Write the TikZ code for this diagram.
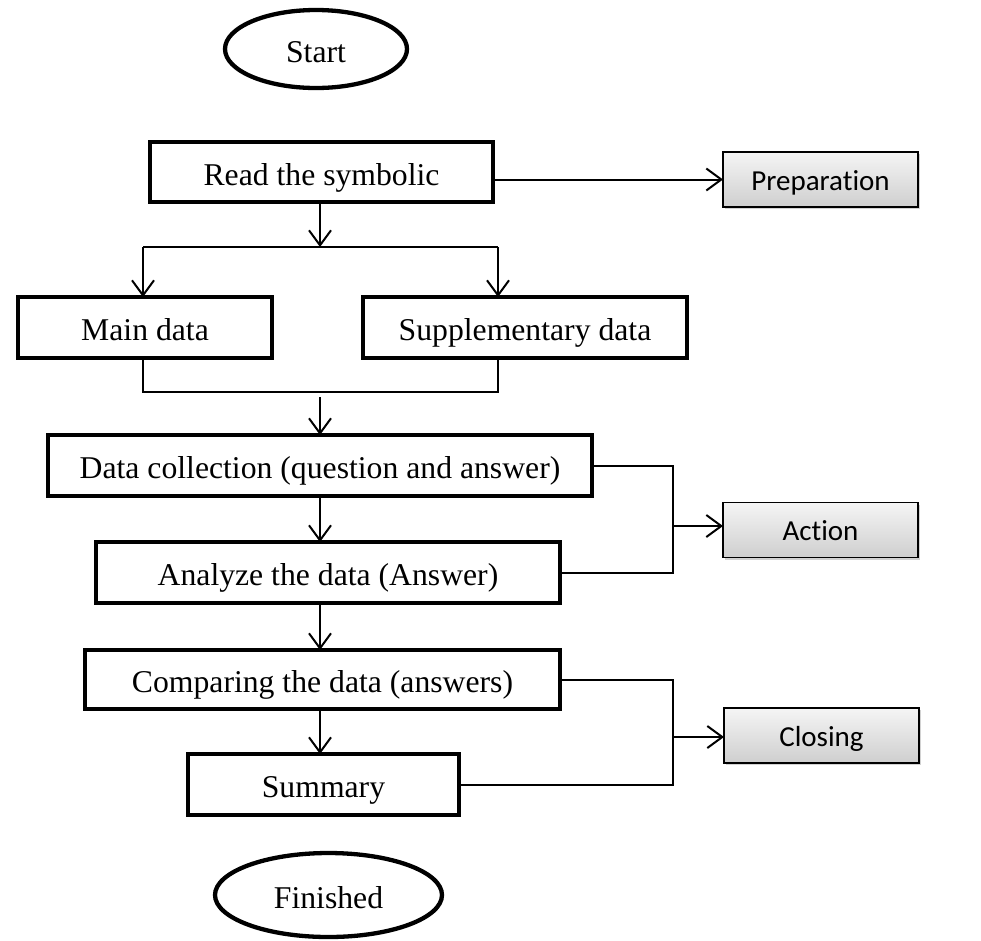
\documentclass[tikz,border=0pt]{standalone}
\usepackage{fontspec}
\setmainfont{Liberation Serif}
\newfontfamily\calib[Ligatures={NoCommon}]{Carlito}
\usetikzlibrary{arrows.meta,shapes.geometric,shadows}
\begin{document}
\begin{tikzpicture}[x=1pt,y=-1pt,
  every node/.style={inner sep=0pt,outer sep=0pt},
  thickbox/.style={draw,line width=4.3pt,rectangle,text height=26pt,text depth=0pt,
     font=\fontsize{31.7}{36}\selectfont},
  oval/.style={draw,line width=4.3pt,ellipse,text height=26pt,text depth=0pt,
     font=\fontsize{31.7}{36}\selectfont},
  phase/.style={draw,line width=1.6pt,rectangle,minimum width=195pt,minimum height=55pt,
     text height=21pt,text depth=0pt,
     top color=gray!8,bottom color=gray!38,
     drop shadow={shadow xshift=2pt,shadow yshift=-2pt,opacity=0.35,fill=gray},
     font=\calib\fontsize{29}{34}\selectfont},
  conn/.style={line width=2pt},
  arr/.style={line width=2pt,-{Straight Barb[length=15pt,width=22pt,line width=2pt]}}]
\useasboundingbox (0,0) rectangle (981,940);
\fill[white] (0,0) rectangle (981,940);

\node[oval,minimum width=182pt,minimum height=78pt] (start) at (316,49) {Start};
\node[thickbox,minimum width=343pt,minimum height=60pt] (read) at (321.5,172) {Read the symbolic};
\node[phase] (prep) at (820.5,179.5) {Preparation};
\node[thickbox,minimum width=254pt,minimum height=61pt] (main) at (145,327.5) {Main data};
\node[thickbox,minimum width=324pt,minimum height=61pt] (supp) at (525,327.5) {Supplementary data};
\node[thickbox,minimum width=544pt,minimum height=61pt] (data) at (320,465.5) {Data collection (question and answer)};
\node[thickbox,minimum width=464pt,minimum height=61pt] (anal) at (328,572.5) {Analyze the data (Answer)};
\node[phase] (action) at (820.5,530) {Action};
\node[thickbox,minimum width=475pt,minimum height=59pt] (comp) at (322.5,679.5) {Comparing the data (answers)};
\node[thickbox,minimum width=271pt,minimum height=61pt] (summ) at (323.5,784.5) {Summary};
\node[phase] (closing) at (821.5,735.5) {Closing};
\node[oval,minimum width=227pt,minimum height=84pt] (fin) at (328.5,895) {Finished};

\coordinate (bc) at (320,247);
\coordinate (bl) at (143,247);
\coordinate (br) at (498,247);
\coordinate (ml) at (143,392);
\coordinate (mr) at (498,392);
\coordinate (mc) at (320,397);
\coordinate (ax) at (673,526);
\coordinate (cx) at (673,737);

% preparation
\draw[arr] (read.east |- prep.west) -- (prep.west);
% split
\draw[arr] (bc |- read.south) -- (bc);
\draw[conn] (bl) -- (br);
\draw[arr] (bl) -- (bl |- main.north);
\draw[arr] (br) -- (br |- supp.north);
% merge
\draw[conn] (ml |- main.south) -- (ml) -- (mr) -- (mr |- supp.south);
\draw[arr] (mc) -- (mc |- data.north);
% main chain
\draw[arr] (mc |- data.south) -- (mc |- anal.north);
\draw[arr] (mc |- anal.south) -- (mc |- comp.north);
\draw[arr] (mc |- comp.south) -- (mc |- summ.north);
% action bracket
\draw[conn] (data.east) -- (ax |- data.east) -- (ax |- anal.east) -- (anal.east);
\draw[arr] (ax) -- (action.west |- ax);
% closing bracket
\draw[conn] (comp.east) -- (cx |- comp.east) -- (cx |- summ.east) -- (summ.east);
\draw[arr] (cx) -- (closing.west |- cx);
\end{tikzpicture}
\end{document}
